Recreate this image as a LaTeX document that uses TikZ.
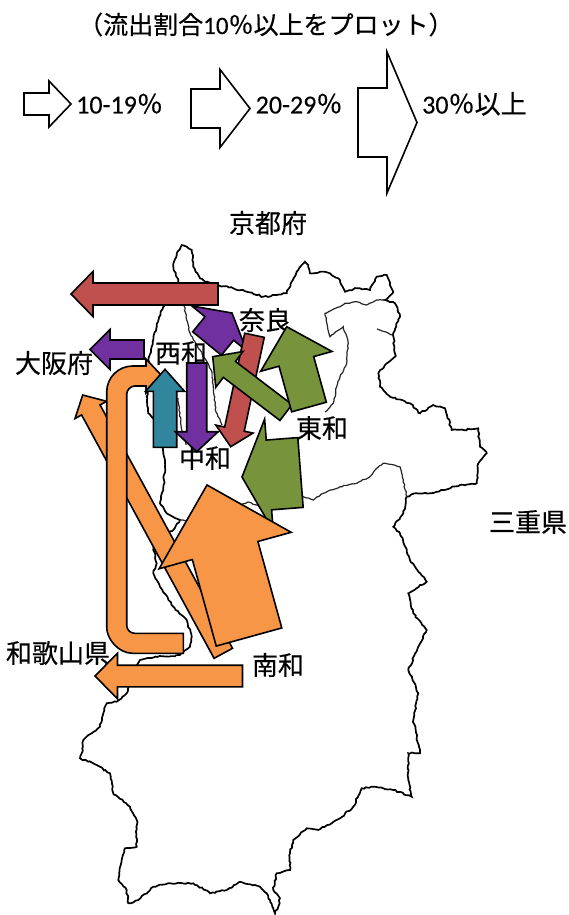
\documentclass[tikz,border=0pt]{standalone}
\usepackage{fontspec}
\newfontfamily\jp[FakeBold=0.4]{Noto Sans CJK JP}
\newfontfamily\lat[FakeBold=0.3]{Carlito}
\usetikzlibrary{calc,decorations.pathmorphing}
\definecolor{narared}{HTML}{C0504D}
\definecolor{seiwapurple}{HTML}{7030A0}
\definecolor{chuwateal}{HTML}{31859C}
\definecolor{towagreen}{HTML}{77933C}
\definecolor{nanwaorange}{HTML}{F79646}
\tikzset{
  pref/.style={font=\jp\fontsize{26}{30}\selectfont, inner sep=0pt},
  legendtext/.style={font=\fontsize{26}{30}\selectfont, inner sep=0pt, anchor=base west},
  flowline/.style={draw=black, line width=1.6pt, line join=miter},
  border/.style={line width=1.7pt, decorate, decoration={random steps, segment length=2.5pt, amplitude=0.8pt}},
  innerborder/.style={line width=1.2pt, black!85, decorate, decoration={random steps, segment length=2.5pt, amplitude=0.6pt}}
}
% block arrow: #1 fill, #2 tail, #3 head, #4 half shaft, #5 half head, #6 head length
\newcommand{\blockflow}[6]{%
  \path ($(#3)!#6!(#2)$) coordinate (hb);
  \filldraw[flowline, fill=#1] ($(#2)!#4!90:(#3)$) -- ($(hb)!#4!90:(#3)$) -- ($(hb)!#5!90:(#3)$) -- (#3)
    -- ($(hb)!#5!-90:(#3)$) -- ($(hb)!#4!-90:(#3)$) -- ($(#2)!#4!-90:(#3)$) -- cycle;
}

\begin{document}
\begin{tikzpicture}[x=1pt,y=-1pt]
  \useasboundingbox (0,0) rectangle (568,915);
  \pgfmathsetseed{7}

  % legend
  \node[font=\jp\fontsize{25}{29}\selectfont, inner sep=0pt, anchor=base west] (title) at (78,34) {（流出割合{\lat 10}％以上をプロット）};
  \coordinate (lg1-t) at (24,104);    \coordinate (lg1-h) at (71,104);
  \coordinate (lg2-t) at (191,108.5); \coordinate (lg2-h) at (250,108.5);
  \coordinate (lg3-t) at (358,122.5); \coordinate (lg3-h) at (417,122.5);
  \blockflow{white}{lg1-t}{lg1-h}{11pt}{23pt}{22pt}
  \blockflow{white}{lg2-t}{lg2-h}{19.5pt}{39pt}{30pt}
  \blockflow{white}{lg3-t}{lg3-h}{34.5pt}{70.5pt}{30pt}
  \node[legendtext] (lg1) at (76,113.5) {{\lat 10-19}{\jp ％}};
  \node[legendtext] (lg2) at (255.5,113.5) {{\lat 20-29}{\jp ％}};
  \node[legendtext] (lg3) at (422,113.5) {{\lat 30}{\jp ％以上}};

  % prefecture outline
  \draw[border] (181.7,245) -- (186.7,246.7) -- (191.7,250) -- (193.3,266.7) -- (200,278.3) -- (205,281.7)
    -- (216.7,285) -- (233.3,288.3) -- (246.7,291.7) -- (263.3,296.7) -- (276.7,295) -- (286.7,293.3)
    -- (291.7,281.7) -- (296.7,271.7) -- (301.7,265) -- (305,261.7) -- (308.3,265) -- (310,273.3)
    -- (320,271.7) -- (330,273.3) -- (340,280) -- (345,291.7) -- (356.7,288.3) -- (370,290)
    -- (376.7,276.7) -- (386.7,275) -- (393.3,291.7) -- (385,300) -- (395,303.3) -- (400,316.7)
    -- (393.3,333) -- (395,356.7) -- (386.7,363.3) -- (378.3,373.3) -- (380,386.7) -- (390,396.7)
    -- (410,403.3) -- (420,413.3) -- (433.3,405) -- (445,408.3) -- (451.7,430) -- (463.3,430)
    -- (478.3,428.3) -- (480,446.7) -- (486.7,453.3) -- (478.3,463.3) -- (476.7,483.3) -- (460,485)
    -- (443.3,490) -- (430,493.3) -- (416.7,493.3) -- (406.7,496.7) -- (403.3,513.3) -- (393.3,526.7)
    -- (400,533.3) -- (410,560) -- (426.7,581.7) -- (408.3,593.3) -- (413.3,613.3) -- (426.7,630)
    -- (418.3,646.7) -- (408.3,670) -- (418.3,693.3) -- (413.3,720) -- (420,753.3) -- (408.3,753.3)
    -- (408.3,780) -- (411.7,796.7) -- (393.3,790) -- (373.3,786.7) -- (361.7,788.3) -- (353.3,806.7)
    -- (340,818.3) -- (318.3,830) -- (306.7,828.3) -- (293.3,840) -- (290,853.3) -- (290,870)
    -- (276.7,873.3) -- (273.3,890) -- (280,898.3) -- (278.3,906.7) -- (275,913.3) -- (270,900)
    -- (266.7,893.3) -- (260,886.7) -- (240,881.7) -- (226.7,890) -- (210,893.3) -- (193.3,883.3)
    -- (170,883.3) -- (153.3,886.7) -- (138.3,900) -- (128.3,903.3) -- (126.7,890) -- (118.3,880)
    -- (121.7,860) -- (125,848.3) -- (136.7,846.7) -- (136.7,820) -- (130,806.7) -- (113.3,793.3)
    -- (110,773.3) -- (96.7,765) -- (80,758.3) -- (81.7,753.3) -- (83.3,740) -- (91.7,733.3)
    -- (100,726.7) -- (103.3,713.3) -- (106.7,703.3) -- (116.7,701.7) -- (126.7,693.3) -- (130,680)
    -- (136.7,667) -- (140,660) -- (157,657) -- (180,655) -- (190,646.7) -- (191.7,636.7)
    -- (186.7,620) -- (173.3,606.7) -- (160,586.7) -- (153.3,573.3) -- (156.7,563.3) -- (153.3,550)
    -- (156.7,540) -- (173.3,530) -- (180,520) -- (166.7,513.3) -- (160,503.3) -- (163.3,490)
    -- (165,466.7) -- (163.3,453.3) -- (160,433.3) -- (155,420) -- (148.3,413.3) -- (146.7,396.7)
    -- (150,380) -- (148.3,360) -- (151.7,346.7) -- (153.3,340) -- (156.7,326.7) -- (159.3,316.7)
    -- (163.3,306.7) -- (170,298) -- (178.3,290) -- (178.3,281.7) -- (173.3,266.7) -- (176.7,253.3) -- cycle;
  % district borders
  \draw[innerborder] (385,300) -- (376.7,300) -- (366.7,305) -- (356.7,301.7) -- (345,303.3) -- (340,306.7)
    -- (325,313.3) -- (328,330) -- (330,336.7) -- (343.3,326.7) -- (348.3,343.3) -- (346.7,363.3)
    -- (340,376.7) -- (336.7,386.7) -- (333.3,403.3) -- (325,412);
  \draw[innerborder] (377,329) -- (386,332) -- (393,335);
  \draw[innerborder] (406.7,496.7) -- (403.3,480) -- (400,466.7) -- (383.3,463.3) -- (376.7,468.3)
    -- (370,476.7) -- (356.7,483.3) -- (340,486.7) -- (323.3,493.3) -- (313.3,500) -- (303.3,496.7)
    -- (285,505) -- (265,508) -- (248,502) -- (230,508) -- (210,514) -- (193,521) -- (180,520);
  \draw[innerborder] (184,303) -- (186.7,320) -- (190,333) -- (200,350) -- (212,372) -- (214,395)
    -- (216,412) -- (222,425);
  \draw[innerborder] (178,398) -- (181.7,430) -- (186,445);

  % place names
  \node[pref] (kyoto) at (268,223) {京都府};
  \node[pref] (nara) at (265,320) {奈良};
  \node[pref] (seiwa) at (181,353) {西和};
  \node[pref] (osaka) at (54,363) {大阪府};
  \node[pref] (chuwa) at (205,458) {中和};
  \node[pref] (towa) at (322,428) {東和};
  \node[pref] (mie) at (528,522) {三重県};
  \node[pref] (wakayama) at (58,653) {和歌山県};
  \node[pref] (nanwa) at (278,665) {南和};

  % flow ends (t = from, h = to)
  \coordinate (nr-os-t) at (218,294);     \coordinate (nr-os-h) at (71,294);
  \coordinate (nr-cw-t) at (254.5,335.3); \coordinate (nr-cw-h) at (230.7,446.7);
  \coordinate (sw-os-t) at (144,349.5);   \coordinate (sw-os-h) at (90,349.5);
  \coordinate (sw-nr-t) at (207,343.5);   \coordinate (sw-nr-h) at (232,313);
  \coordinate (sw-cw-t) at (196.7,363);   \coordinate (sw-cw-h) at (196.7,451.7);
  \coordinate (cw-sw-t) at (165,447.3);   \coordinate (cw-sw-h) at (165,369.3);
  \coordinate (tw-sw-t) at (286,412.5);   \coordinate (tw-sw-h) at (212.7,356.7);
  \coordinate (tw-nr-t) at (309,407);     \coordinate (tw-nr-h) at (286.7,326.7);
  \coordinate (tw-cw-t) at (300.5,472.5); \coordinate (tw-cw-h) at (242,477);
  \coordinate (nw-os-t) at (223.3,653.3); \coordinate (nw-os-h) at (82.7,395);
  \coordinate (nw-cw-t) at (249,637);     \coordinate (nw-cw-h) at (207,485);
  \coordinate (nw-wk-t) at (242.5,676);   \coordinate (nw-wk-h) at (95,676);

  % flows
  \blockflow{nanwaorange}{nw-os-t}{nw-os-h}{10.5pt}{18pt}{17pt}
  % nanwa -> seiwa, bent round the west side
  \filldraw[flowline, fill=nanwaorange] (183.3,653.3) -- (132.7,653.3)
    .. controls (118.3,653.3) and (106.7,638.9) .. (106.7,627.3) -- (106.7,392)
    .. controls (106.7,377.6) and (118.3,366) .. (132.7,366) -- (146,366) -- (146,359) -- (162,376)
    -- (146,393) -- (146,386) -- (134.7,386) .. controls (130.3,386) and (126.7,390.4) .. (126.7,394)
    -- (126.7,625.3) .. controls (126.7,629.7) and (130.3,633.3) .. (134.7,633.3) -- (183.3,633.3) -- cycle;
  \blockflow{seiwapurple}{sw-nr-t}{sw-nr-h}{18.5pt}{35.5pt}{20pt}
  \blockflow{narared}{nr-os-t}{nr-os-h}{11pt}{22.5pt}{22pt}
  \blockflow{seiwapurple}{sw-os-t}{sw-os-h}{9.5pt}{20pt}{20pt}
  \blockflow{narared}{nr-cw-t}{nr-cw-h}{10pt}{19pt}{18pt}
  \blockflow{towagreen}{tw-cw-t}{tw-cw-h}{35pt}{56pt}{27pt}
  \blockflow{towagreen}{tw-sw-t}{tw-sw-h}{10pt}{22.5pt}{21pt}
  \blockflow{towagreen}{tw-nr-t}{tw-nr-h}{18pt}{37pt}{36pt}
  \blockflow{chuwateal}{cw-sw-t}{cw-sw-h}{11.7pt}{19.5pt}{22pt}
  \blockflow{seiwapurple}{sw-cw-t}{sw-cw-h}{10pt}{21.5pt}{20pt}
  \blockflow{nanwaorange}{nw-cw-t}{nw-cw-h}{34pt}{68.5pt}{68pt}
  \blockflow{nanwaorange}{nw-wk-t}{nw-wk-h}{10.8pt}{22.8pt}{22.5pt}
\end{tikzpicture}
\end{document}
